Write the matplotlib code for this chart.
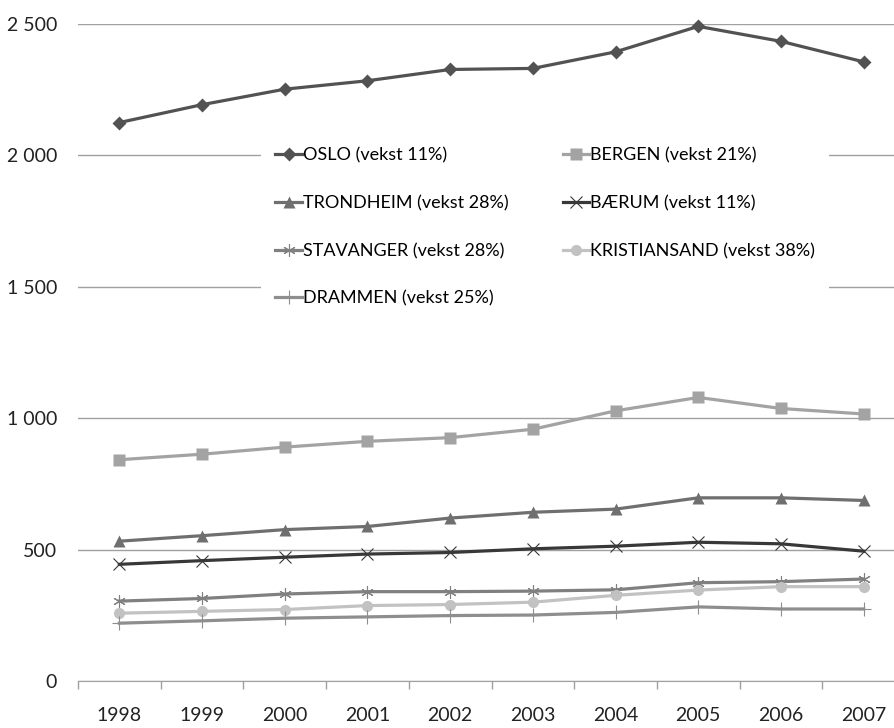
import numpy as np
import matplotlib
matplotlib.use('Agg')
import matplotlib.pyplot as plt
from matplotlib.ticker import FuncFormatter

# Years and values
years = ['1998', '1999', '2000', '2001', '2002', '2003', '2004', '2005', '2006', '2007']
oslo = [2125, 2193, 2252, 2284, 2327, 2331, 2394, 2491, 2434, 2356]
bergen = [842, 863, 890, 912, 926, 958, 1028, 1079, 1037, 1016]
trondheim = [532, 553, 576, 588, 620, 642, 654, 697, 697, 687]
baerum = [444, 458, 471, 483, 489, 503, 513, 528, 522, 494]
stavanger = [304, 314, 331, 340, 340, 342, 347, 374, 378, 388]
kristiansand = [258, 265, 272, 287, 291, 300, 326, 346, 359, 359]
drammen = [220, 229, 239, 244, 249, 251, 261, 282, 274, 274]

labels = ['OSLO (vekst 11%)', 'BERGEN (vekst 21%)', 'TRONDHEIM (vekst 28%)',
          'BÆRUM (vekst 11%)', 'STAVANGER (vekst 28%)', 'KRISTIANSAND (vekst 38%)',
          'DRAMMEN (vekst 25%)']

# Lato is the closest installed face to the Calibri look of the original
plt.rcParams['font.family'] = ['Lato', 'DejaVu Sans']
fs = 13       # legend text
tick_fs = 14  # axis labels

fig = plt.figure(figsize=(8.95, 7.28), dpi=100)
# the plot area runs a little past the right edge of the picture
ax = fig.add_axes([78 / 895, 1 - 681 / 728, 827 / 895, 657 / 728])

x = np.arange(len(years))
styles = [
    (oslo, '#525252', 'D', 7, 'none'),
    (bergen, '#a3a3a3', 's', 8, 'none'),
    (trondheim, '#6f6f6f', '^', 8, 'none'),
    (baerum, '#383838', 'x', 8, None),
    (stavanger, '#808080', (6, 2, 0), 9, None),
    (kristiansand, '#c2c2c2', 'o', 8, 'none'),
    (drammen, '#8e8e8e', '+', 10, None),
]
handles = []
for (vals, col, mk, ms, mec), lab in zip(styles, labels):
    kw = dict(markeredgewidth=0.8) if mec is None else dict(markeredgecolor='none')
    h, = ax.plot(x, vals, color=col, lw=2.3, marker=mk, markersize=ms,
                 label=lab, clip_on=False, **kw)
    handles.append(h)

ax.set_xlim(-0.5, 9.5)
ax.set_ylim(0, 2500)
ax.set_yticks([0, 500, 1000, 1500, 2000, 2500])
ax.yaxis.set_major_formatter(FuncFormatter(lambda v, p: f'{int(v):,}'.replace(',', ' ')))
ax.set_xticks(x)
ax.set_xticklabels(years)
ax.set_xticks(np.arange(-0.5, 10, 1), minor=True)
ax.tick_params(axis='x', which='major', length=0, pad=19, labelsize=tick_fs, colors='#222222')
ax.tick_params(axis='x', which='minor', length=6, color='#a0a0a0', width=1)
ax.tick_params(axis='y', length=0, pad=15, labelsize=tick_fs, colors='#222222')

ax.grid(axis='y', color='#a0a0a0', lw=1)
ax.set_axisbelow(True)
for s in ['top', 'right', 'left']:
    ax.spines[s].set_visible(False)
ax.spines['bottom'].set_color('#a0a0a0')
ax.spines['bottom'].set_zorder(0.5)

# legend is filled row by row in the original
order = [0, 2, 4, 6, 1, 3, 5]
leg = ax.legend([handles[i] for i in order], [labels[i] for i in order],
                ncol=2, loc='upper left', mode='expand',
                bbox_to_anchor=(252 / 895, 1 - 330 / 728, 586 / 895, 206 / 728),
                bbox_transform=fig.transFigure, fontsize=fs,
                frameon=True, facecolor='white', edgecolor='none', framealpha=1,
                handlelength=1.45, handletextpad=0.05, labelspacing=1.75,
                borderpad=0.8, fancybox=False)
leg.get_frame().set_linewidth(0)

fig.savefig('out.png', dpi=100)
